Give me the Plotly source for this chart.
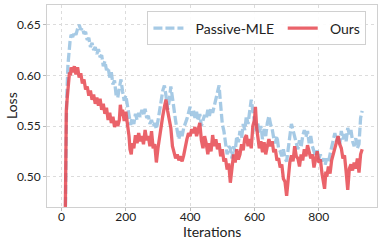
import plotly.graph_objects as go

# Iterations and loss values
ours_x = [10, 13, 15, 18, 20, 23, 25, 28, 30, 35, 40, 45, 50, 55, 60, 65, 70, 75, 80, 85,
          90, 95, 100, 105, 110, 115, 120, 125, 130, 135, 140, 145, 150, 155, 160, 165, 170, 175, 180, 183,
          187, 190, 195, 200, 205, 210, 213, 217, 220, 225, 230, 235, 240, 245, 250, 255, 260, 265, 270, 275,
          280, 285, 290, 295, 300, 305, 310, 315, 320, 325, 330, 335, 340, 345, 350, 355, 360, 365, 370, 375,
          380, 385, 390, 395, 400, 405, 410, 415, 420, 425, 430, 435, 440, 445, 450, 455, 460, 465, 470, 475,
          480, 485, 490, 495, 500, 505, 510, 515, 520, 525, 530, 535, 540, 545, 550, 555, 560, 565, 570, 575,
          580, 585, 590, 595, 600, 603, 607, 610, 615, 620, 625, 630, 635, 640, 645, 650, 655, 660, 665, 670,
          675, 680, 685, 690, 695, 700, 705, 710, 715, 720, 725, 730, 735, 740, 745, 750, 755, 760, 765, 770,
          775, 780, 785, 790, 795, 800, 805, 810, 815, 818, 822, 825, 830, 835, 840, 845, 850, 855, 860, 865,
          870, 875, 880, 885, 890, 895, 900, 905, 910, 915, 920, 925, 930, 935]
ours_y = [0.40, 0.50, 0.565, 0.578, 0.588, 0.597, 0.603, 0.600, 0.608, 0.603, 0.609, 0.601, 0.608, 0.598, 0.602, 0.592, 0.596, 0.586, 0.589, 0.580,
          0.585, 0.576, 0.581, 0.572, 0.578, 0.570, 0.577, 0.566, 0.572, 0.562, 0.568, 0.556, 0.563, 0.553, 0.559, 0.549, 0.555, 0.550, 0.556, 0.571,
          0.560, 0.566, 0.555, 0.564, 0.553, 0.540, 0.527, 0.522, 0.533, 0.528, 0.541, 0.533, 0.543, 0.535, 0.540, 0.532, 0.546, 0.536, 0.540, 0.530,
          0.545, 0.528, 0.532, 0.514, 0.528, 0.540, 0.550, 0.560, 0.569, 0.576, 0.565, 0.556, 0.548, 0.530, 0.525, 0.518, 0.522, 0.516, 0.520, 0.515,
          0.521, 0.530, 0.537, 0.543, 0.540, 0.547, 0.543, 0.549, 0.540, 0.546, 0.553, 0.536, 0.528, 0.540, 0.533, 0.522, 0.533, 0.525, 0.541, 0.530,
          0.537, 0.527, 0.533, 0.520, 0.527, 0.515, 0.518, 0.507, 0.513, 0.494, 0.508, 0.522, 0.514, 0.527, 0.517, 0.522, 0.532, 0.526, 0.538, 0.541,
          0.530, 0.537, 0.528, 0.550, 0.556, 0.569, 0.548, 0.540, 0.528, 0.535, 0.524, 0.534, 0.522, 0.530, 0.537, 0.530, 0.535, 0.524, 0.527, 0.516,
          0.518, 0.509, 0.512, 0.498, 0.495, 0.481, 0.500, 0.514, 0.521, 0.515, 0.530, 0.520, 0.518, 0.510, 0.522, 0.516, 0.527, 0.520, 0.531, 0.524,
          0.518, 0.522, 0.509, 0.517, 0.525, 0.514, 0.517, 0.503, 0.494, 0.488, 0.505, 0.500, 0.510, 0.503, 0.516, 0.522, 0.530, 0.536, 0.540, 0.532,
          0.528, 0.518, 0.521, 0.505, 0.487, 0.508, 0.512, 0.506, 0.514, 0.508, 0.518, 0.504, 0.522, 0.527]

mle_x = [10, 13, 16, 20, 23, 27, 30, 35, 40, 45, 50, 55, 60, 65, 70, 75, 80, 85, 90, 95,
         100, 105, 110, 115, 120, 125, 130, 135, 140, 145, 150, 155, 160, 165, 170, 175, 180, 185, 190, 195,
         200, 205, 210, 215, 220, 225, 230, 235, 240, 245, 250, 255, 260, 265, 270, 275, 280, 285, 290, 295,
         300, 305, 310, 315, 320, 325, 330, 335, 340, 345, 350, 355, 360, 365, 370, 375, 380, 385, 390, 395,
         400, 405, 410, 415, 420, 425, 430, 435, 440, 445, 450, 455, 460, 465, 470, 475, 480, 485, 490, 493,
         497, 500, 505, 510, 515, 520, 525, 530, 535, 540, 545, 550, 555, 560, 565, 570, 575, 580, 585, 590,
         595, 600, 605, 610, 615, 620, 625, 630, 635, 640, 645, 650, 655, 660, 665, 670, 675, 680, 685, 690,
         695, 700, 705, 710, 715, 720, 725, 730, 735, 740, 745, 750, 755, 760, 765, 770, 775, 780, 785, 790,
         795, 800, 805, 810, 815, 820, 825, 830, 835, 840, 845, 850, 855, 860, 865, 870, 875, 880, 885, 890,
         895, 900, 905, 910, 915, 920, 925, 930, 935]
mle_y = [0.40, 0.52, 0.575, 0.610, 0.625, 0.635, 0.640, 0.638, 0.643, 0.640, 0.646, 0.650, 0.645, 0.647, 0.641, 0.643, 0.635, 0.637, 0.628, 0.632,
         0.625, 0.628, 0.621, 0.626, 0.618, 0.620, 0.609, 0.614, 0.605, 0.608, 0.598, 0.603, 0.591, 0.595, 0.580, 0.578, 0.588, 0.596, 0.584, 0.575,
         0.580, 0.569, 0.560, 0.551, 0.558, 0.552, 0.562, 0.556, 0.563, 0.559, 0.566, 0.560, 0.567, 0.558, 0.560, 0.552, 0.556, 0.550, 0.553, 0.547,
         0.555, 0.563, 0.575, 0.585, 0.590, 0.580, 0.566, 0.575, 0.589, 0.578, 0.563, 0.555, 0.545, 0.537, 0.545, 0.540, 0.548, 0.552, 0.557, 0.563,
         0.569, 0.560, 0.566, 0.558, 0.564, 0.555, 0.562, 0.550, 0.555, 0.561, 0.557, 0.566, 0.560, 0.568, 0.563, 0.570, 0.576, 0.582, 0.590, 0.578,
         0.563, 0.552, 0.545, 0.535, 0.522, 0.530, 0.528, 0.518, 0.530, 0.525, 0.540, 0.534, 0.545, 0.538, 0.552, 0.546, 0.560, 0.552, 0.568, 0.576,
         0.565, 0.552, 0.545, 0.553, 0.542, 0.550, 0.537, 0.547, 0.540, 0.553, 0.560, 0.552, 0.547, 0.538, 0.533, 0.540, 0.528, 0.525, 0.520, 0.527,
         0.518, 0.515, 0.530, 0.540, 0.552, 0.545, 0.538, 0.534, 0.527, 0.536, 0.529, 0.540, 0.546, 0.539, 0.545, 0.533, 0.540, 0.530, 0.526, 0.520,
         0.526, 0.517, 0.522, 0.515, 0.518, 0.512, 0.518, 0.514, 0.522, 0.530, 0.538, 0.543, 0.535, 0.540, 0.532, 0.545, 0.537, 0.542, 0.535, 0.548,
         0.542, 0.546, 0.535, 0.530, 0.538, 0.528, 0.532, 0.558, 0.565]

x_ticks = [0, 200, 400, 600, 800]
y_ticks = [0.50, 0.55, 0.60, 0.65]
y_tick_labels = ["0.50", "0.55", "0.60", "0.65"]

FONT = "Lato, 'Open Sans', sans-serif"
NB = "\u00a0"

fig = go.Figure()
fig.add_trace(go.Scatter(
    x=mle_x, y=mle_y, mode="lines", name=NB * 2 + "Passive-MLE" + NB,
    line=dict(color="rgba(150,193,224,0.85)", width=3.3, dash="9px,3px"),
))
fig.add_trace(go.Scatter(
    x=ours_x, y=ours_y, mode="lines", name=NB * 2 + "Ours",
    line=dict(color="rgba(230,72,80,0.85)", width=3.3),
))

axis_common = dict(
    showgrid=True, gridcolor="#dcdcdc", griddash="dot", gridwidth=1,
    showline=True, linecolor="#d0d0d0", linewidth=1, mirror=True,
    ticks="outside", ticklen=3, tickcolor="#bbbbbb",
    zeroline=False, automargin=False,
    tickfont=dict(family=FONT, size=12, color="#222222"),
)

fig.update_layout(
    width=382, height=242,
    margin=dict(l=47, r=5, t=5, b=35, autoexpand=False),
    paper_bgcolor="white", plot_bgcolor="white",
    font=dict(family=FONT, color="#222222"),
    showlegend=True,
    legend=dict(
        orientation="h", x=0.968, y=0.968, xanchor="right", yanchor="top",
        bgcolor="rgba(255,255,255,0.9)", bordercolor="#d0d0d0", borderwidth=1,
        font=dict(family=FONT, size=14, color="#222222"),
        itemwidth=30,
    ),
    xaxis=dict(range=[-45, 981], tickvals=x_ticks, ticklabelstandoff=-4, **axis_common),
    yaxis=dict(range=[0.47, 0.6695], tickvals=y_ticks, ticktext=y_tick_labels, **axis_common),
    annotations=[
        dict(text="Iterations", xref="paper", yref="paper", x=0.5, y=-0.122,
             xanchor="center", yanchor="middle", showarrow=False,
             font=dict(family=FONT, size=14, color="#222222")),
        dict(text="Loss", xref="paper", yref="paper", x=-0.109, y=0.5,
             xanchor="center", yanchor="middle", showarrow=False, textangle=-90,
             font=dict(family=FONT, size=14, color="#222222")),
    ],
)

fig.write_html("out.html", config={"displayModeBar": False},
               post_script="document.body.style.margin='0';")
